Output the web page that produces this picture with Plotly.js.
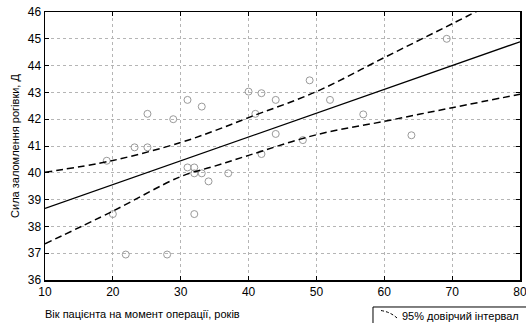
<!DOCTYPE html>
<html>
<head>
<meta charset="utf-8">
<script src="https://cdn.plot.ly/plotly-3.0.1.min.js"></script>
<style>html,body{margin:0;padding:0;background:#fff;}#chart{width:526px;height:323px;}</style>
</head>
<body>
<div id="chart"></div>
<script>
// Observed points: age at operation (years) vs corneal refractive power (D)
const ageYears = [19.1, 20.0, 21.9, 23.2, 25.1, 25.1, 28.0, 28.9, 31.0, 33.1, 31.0, 32.0, 32.0, 33.1, 34.1, 37.0, 32.0, 40.0, 41.0, 41.9, 44.0, 49.0, 44.0, 41.9, 48.0, 52.0, 56.9, 69.2, 64.0];
const powerD   = [40.45, 38.46, 36.95, 40.95, 40.95, 42.2, 36.95, 42.0, 42.72, 42.47, 40.2, 40.2, 39.98, 39.98, 39.68, 39.98, 38.46, 43.03, 42.2, 42.97, 42.72, 43.45, 41.45, 40.7, 41.22, 42.72, 42.18, 45.0, 41.4];

// Regression line and 95% confidence band
const bandX   = [10, 20, 30, 35, 40, 50, 60, 70, 80];
const fitY    = [38.67, 39.56, 40.45, 40.89, 41.34, 42.23, 43.12, 44.00, 44.89];
const upperY  = [40.02, 40.46, 41.13, 41.57, 42.06, 43.03, 44.30, 45.56, 46.85];
const lowerY  = [37.35, 38.57, 39.86, 40.25, 40.65, 41.42, 41.92, 42.43, 42.93];

const xTicks = [10, 20, 30, 40, 50, 60, 70, 80];
const yTicks = [36, 37, 38, 39, 40, 41, 42, 43, 44, 45, 46];

const xTitle = "Вік пацієнта на момент операції, років";
const yTitle = "Сила заломлення рогівки, Д";
const ciName = "95% довірчий інтервал";

const font = "Liberation Sans, Arial, sans-serif";

const traces = [
  {x: ageYears, y: powerD, mode: "markers", type: "scatter",
   marker: {symbol: "circle-open", size: 7, color: "#9a9a9a", line: {width: 1}}},
  {x: bandX, y: fitY, mode: "lines", type: "scatter",
   line: {color: "#000", width: 1.3}},
  {x: bandX, y: upperY, mode: "lines", type: "scatter", name: ciName,
   line: {color: "#000", width: 1.5, dash: "7px,4px", shape: "spline", smoothing: 1}},
  {x: bandX, y: lowerY, mode: "lines", type: "scatter",
   line: {color: "#000", width: 1.5, dash: "7px,4px", shape: "spline", smoothing: 1}}
];

const axisCommon = {
  showline: true, linecolor: "#000", linewidth: 1.5, mirror: "allticks",
  ticks: "inside", ticklen: 4, tickcolor: "#000", tickwidth: 1,
  showgrid: true, gridcolor: "#b5b5b5", griddash: "dot", gridwidth: 1,
  zeroline: false, ticklabeloverflow: "allow",
  tickfont: {family: font, size: 12, color: "#000"}
};

const layout = {
  width: 526, height: 323,
  margin: {l: 45, r: 6, t: 12, b: 43, autoexpand: false},
  paper_bgcolor: "#fff", plot_bgcolor: "#fff",
  font: {family: font, color: "#000"},
  showlegend: false,
  xaxis: Object.assign({}, axisCommon, {range: [10, 80], tickvals: xTicks, ticktext: xTicks.map(String)}),
  yaxis: Object.assign({}, axisCommon, {range: [36, 46], tickvals: yTicks, ticktext: yTicks.map(String),
    title: {text: yTitle, font: {family: font, size: 11, color: "#000"}, standoff: 6}}),
  shapes: [
    // legend frame (partly cut off by the picture edge, as in the reference)
    {type: "rect", xref: "paper", yref: "paper", x0: 0.6905, x1: 1.03, y0: -0.1007, y1: -0.2,
     line: {color: "#000", width: 1}, fillcolor: "rgba(0,0,0,0)"},
    // legend line sample
    {type: "path", xref: "paper", yref: "paper",
     path: "M 0.7074,-0.1140 Q 0.7270,-0.1190 0.7411,-0.1418",
     line: {color: "#000", width: 1, dash: "3px,2px"}}
  ],
  annotations: [
    {text: xTitle, xref: "paper", yref: "paper", x: -0.004, y: -0.127, xanchor: "left", yanchor: "middle",
     showarrow: false, font: {family: font, size: 11, color: "#000"}},
    {text: ciName, xref: "paper", yref: "paper", x: 0.7474, y: -0.134, xanchor: "left", yanchor: "middle",
     showarrow: false, font: {family: font, size: 11, color: "#000"}}
  ]
};

Plotly.newPlot("chart", traces, layout, {displayModeBar: false, staticPlot: true});
</script>
</body>
</html>
